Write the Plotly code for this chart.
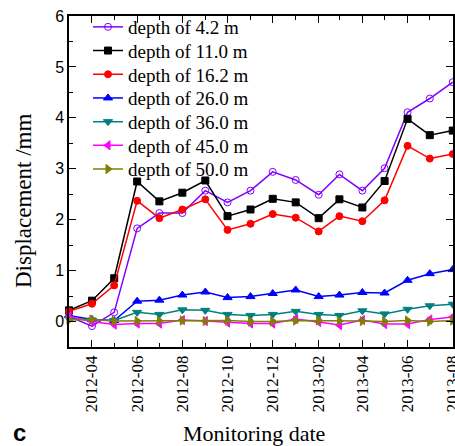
import plotly.graph_objects as go

dates = ["2012-03-01", "2012-04-01", "2012-05-01", "2012-06-01", "2012-07-01", "2012-08-01",
         "2012-09-01", "2012-10-01", "2012-11-01", "2012-12-01", "2013-01-01", "2013-02-01",
         "2013-03-01", "2013-04-01", "2013-05-01", "2013-06-01", "2013-07-01", "2013-08-01"]

d4_2 = [0.10, -0.09, 0.18, 1.83, 2.13, 2.13, 2.57, 2.34, 2.57, 2.94, 2.78, 2.49, 2.89, 2.57, 3.01, 4.11, 4.38, 4.70]
d11_0 = [0.22, 0.41, 0.85, 2.75, 2.36, 2.53, 2.77, 2.07, 2.20, 2.41, 2.34, 2.03, 2.40, 2.24, 2.76, 3.98, 3.66, 3.75]
d16_2 = [0.20, 0.35, 0.71, 2.37, 2.03, 2.20, 2.40, 1.80, 1.92, 2.11, 2.04, 1.77, 2.07, 1.97, 2.38, 3.45, 3.20, 3.29]
d26_0 = [0.12, 0.04, 0.02, 0.40, 0.42, 0.52, 0.58, 0.47, 0.49, 0.55, 0.62, 0.49, 0.52, 0.57, 0.56, 0.81, 0.94, 1.02]
d36_0 = [0.06, 0.03, 0.02, 0.18, 0.14, 0.23, 0.22, 0.14, 0.12, 0.14, 0.20, 0.14, 0.12, 0.21, 0.15, 0.24, 0.31, 0.34]
d45_0 = [0.10, 0.00, -0.06, -0.04, -0.04, 0.03, 0.01, -0.02, -0.04, -0.04, 0.05, -0.01, -0.07, 0.03, -0.05, -0.05, 0.04, 0.09]
d50_0 = [0.03, 0.04, 0.01, 0.01, 0.01, 0.02, 0.01, 0.02, 0.00, 0.00, 0.02, 0.02, 0.01, 0.01, 0.00, 0.02, 0.00, 0.02]

names = ["depth of 4.2 m", "depth of 11.0 m", "depth of 16.2 m", "depth of 26.0 m",
         "depth of 36.0 m", "depth of 45.0 m", "depth of 50.0 m"]
series = [d4_2, d11_0, d16_2, d26_0, d36_0, d45_0, d50_0]
colors = ["#8000FF", "#000000", "#FF0000", "#0000FF", "#008080", "#FF00FF", "#808000"]
symbols = ["circle-open", "square", "circle", "triangle-up", "triangle-down", "triangle-left", "triangle-right"]
sizes = [7, 7, 7, 8, 8, 8, 8]

serif = "Liberation Serif, Times New Roman, serif"
sans = "Liberation Sans, Arial, sans-serif"

W, H = 455, 446
L, R, T, B = 69, 2, 16, 99
pw, ph = W - L - R, H - T - B

fig = go.Figure()
legend_layouts = {}
for i, (nm, ys, c, s, sz) in enumerate(zip(names, series, colors, symbols, sizes)):
    lg = "legend" if i == 0 else f"legend{i + 1}"
    fig.add_trace(go.Scatter(
        x=dates, y=ys, name=nm, mode="lines+markers",
        line=dict(color=c, width=1.5),
        marker=dict(symbol=s, size=sz, color=c, line=dict(color=c, width=1)),
        cliponaxis=False, legend=lg,
    ))
    yc = 27 + 23.7 * i
    legend_layouts[lg] = dict(
        x=(88 - L) / pw, y=(H - B - yc) / ph, xanchor="left", yanchor="middle",
        font=dict(family=serif, size=19, color="black"),
        bgcolor="rgba(0,0,0,0)", borderwidth=0,
    )

fig.update_layout(
    width=W, height=H,
    margin=dict(l=L, r=R, t=T, b=B, autoexpand=False),
    paper_bgcolor="white", plot_bgcolor="white",
    showlegend=True,
    xaxis=dict(
        type="date", range=["2012-03-01", "2013-08-01 08:00"],
        tick0="2012-04-01", dtick="M2", tickformat="%Y-%m",
        ticks="inside", ticklen=7, tickwidth=1.2, tickcolor="black",
        minor=dict(dtick="M1", tick0="2012-03-01", ticks="inside", ticklen=4, tickcolor="black"),
        tickangle=-90, tickfont=dict(family=serif, size=17, color="black"),
        ticklabeloverflow="allow",
        showline=True, linecolor="black", linewidth=1.5, mirror="ticks",
        showgrid=False, zeroline=False,
    ),
    yaxis=dict(
        range=[-0.5, 6], dtick=1, tick0=0,
        ticks="inside", ticklen=7, tickwidth=1.2, tickcolor="black",
        minor=dict(dtick=0.5, ticks="inside", ticklen=4, tickcolor="black"),
        tickfont=dict(family=sans, size=16, color="black"),
        showline=True, linecolor="black", linewidth=1.5, mirror="ticks",
        showgrid=False, zeroline=False,
    ),
    **legend_layouts,
)

# text annotations placed by pixel position
ann = [
    dict(text="Displacement /mm", px=23, py=201, textangle=-90, font=dict(family=serif, size=23, color="black")),
    dict(text="Monitoring date", px=254, py=433, font=dict(family=serif, size=22, color="black")),
    dict(text="<b>c</b>", px=19, py=432, font=dict(family=sans, size=24, color="black")),
]
for a in ann:
    px, py = a.pop("px"), a.pop("py")
    fig.add_annotation(xref="paper", yref="paper", x=(px - L) / pw, y=(H - B - py) / ph,
                       xanchor="center", yanchor="middle", showarrow=False, **a)

fig.write_html("out.html")
